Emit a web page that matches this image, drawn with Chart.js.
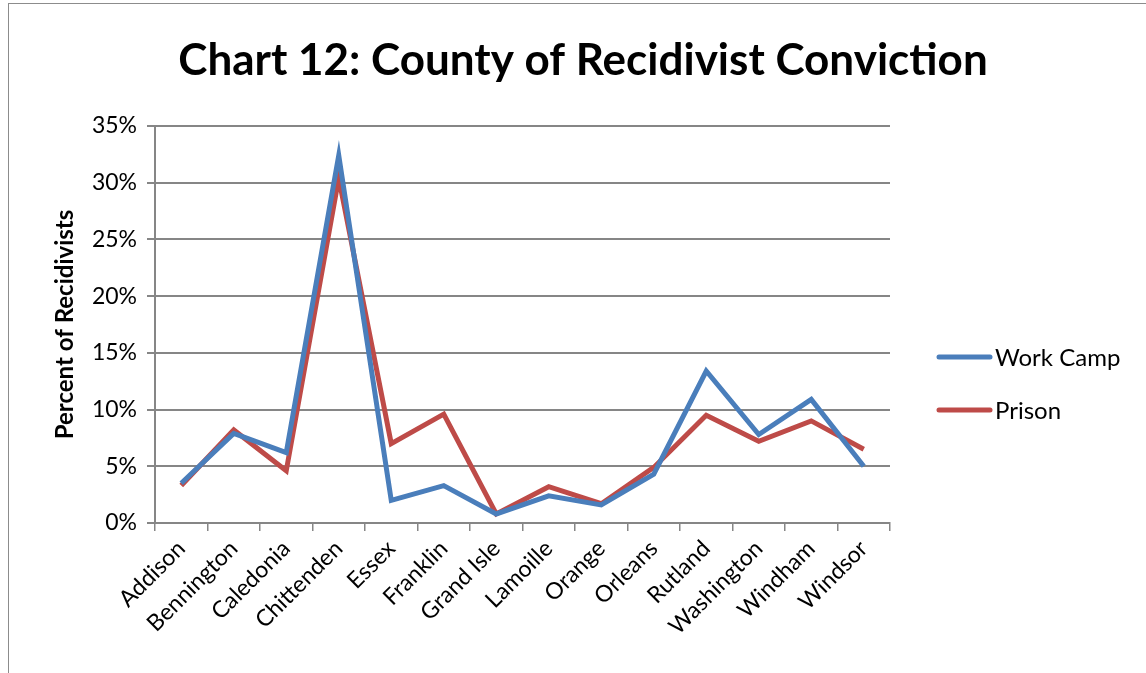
<!DOCTYPE html>
<html>
<head>
  <title>Chart 12</title>
  <script src="https://cdn.jsdelivr.net/npm/chart.js"></script>
  <style>
    html, body {
      margin: 0;
      padding: 0;
      background: #ffffff;
    }
    .frame {
      position: absolute;
      left: 8px;
      top: 3px;
      width: 1200px;
      height: 700px;
      border-left: 1px solid #8c8c8c;
      border-top: 1px solid #8c8c8c;
    }
    .wrap {
      position: absolute;
      left: 0;
      top: 0;
      width: 1146px;
      height: 673px;
    }
  </style>
</head>
<body>
  <div class="frame"></div>
  <div class="wrap"><canvas id="grafico" width="1146" height="673"></canvas></div>

  <script>
    var titulo = 'Chart 12: County of Recidivist Conviction';
    var condados = ['Addison', 'Bennington', 'Caledonia', 'Chittenden', 'Essex', 'Franklin', 'Grand Isle',
                    'Lamoille', 'Orange', 'Orleans', 'Rutland', 'Washington', 'Windham', 'Windsor'];
    var campoTrabajo = [3.5, 7.9, 6.2, 32.4, 2.0, 3.3, 0.8, 2.4, 1.6, 4.3, 13.4, 7.8, 10.9, 5.0];
    var prision = [3.3, 8.2, 4.6, 30.4, 7.0, 9.6, 0.8, 3.2, 1.7, 4.9, 9.5, 7.2, 9.0, 6.5];
    var marcasY = [0, 5, 10, 15, 20, 25, 30, 35];

    var fuente = 'Lato, "Liberation Sans", sans-serif';

    // título centrado en toda la página y leyenda a la derecha
    var extras = {
      id: 'extras',
      afterDraw: function (chart) {
        var ctx = chart.ctx;
        ctx.save();
        ctx.fillStyle = '#000000';
        ctx.font = 'bold 44px ' + fuente;
        ctx.textAlign = 'center';
        ctx.textBaseline = 'middle';
        ctx.fillText(titulo, 583, 61);

        var filas = [357, 410];
        ctx.textAlign = 'left';
        chart.data.datasets.forEach(function (ds, i) {
          ctx.strokeStyle = ds.borderColor;
          ctx.lineWidth = 5;
          ctx.lineCap = 'round';
          ctx.beginPath();
          ctx.moveTo(939, filas[i]);
          ctx.lineTo(990, filas[i]);
          ctx.stroke();
          ctx.fillStyle = '#000000';
          ctx.font = '24px ' + fuente;
          ctx.fillText(ds.label, 995, filas[i] + 1);
        });
        ctx.restore();
      }
    };

    var ctx = document.getElementById('grafico').getContext('2d');
    var miGrafico = new Chart(ctx, {
      type: 'line',
      data: {
        labels: condados,
        datasets: [{
          label: 'Work Camp',
          data: campoTrabajo,
          borderColor: '#4a7ebb',
          borderWidth: 5,
          pointRadius: 0,
          tension: 0
        }, {
          label: 'Prison',
          data: prision,
          borderColor: '#be4b48',
          borderWidth: 5,
          pointRadius: 0,
          tension: 0
        }]
      },
      options: {
        responsive: false,
        animation: false,
        layout: {
          padding: { left: 10, right: 256, top: 126, bottom: 0 }
        },
        scales: {
          x: {
            offset: true,
            grid: {
              display: true,
              offset: true,
              drawOnChartArea: false,
              tickLength: 8,
              color: '#868686',
              lineWidth: 1.5
            },
            border: { color: '#868686', width: 2 },
            ticks: {
              color: '#000000',
              font: { family: fuente, size: 23 },
              maxRotation: 45,
              minRotation: 45,
              autoSkip: false,
              padding: 4
            },
            afterFit: function (escala) { escala.height = 150; }
          },
          y: {
            min: 0,
            max: 35,
            afterBuildTicks: function (escala) {
              escala.ticks = marcasY.map(function (v) { return { value: v }; });
            },
            grid: {
              color: '#868686',
              lineWidth: 2,
              tickLength: 8
            },
            border: { color: '#868686', width: 2 },
            ticks: {
              color: '#000000',
              font: { family: fuente, size: 23 },
              padding: 10,
              callback: function (v) { return v + '%'; }
            },
            title: {
              display: true,
              text: 'Percent of Recidivists',
              color: '#000000',
              font: { family: fuente, size: 24, weight: 'bold' },
              padding: { top: 41, bottom: 0 }
            },
            afterFit: function (escala) { escala.width = 145; }
          }
        },
        plugins: {
          legend: { display: false },
          tooltip: { enabled: false },
          title: { display: false }
        }
      },
      plugins: [extras]
    });
  </script>
</body>
</html>
